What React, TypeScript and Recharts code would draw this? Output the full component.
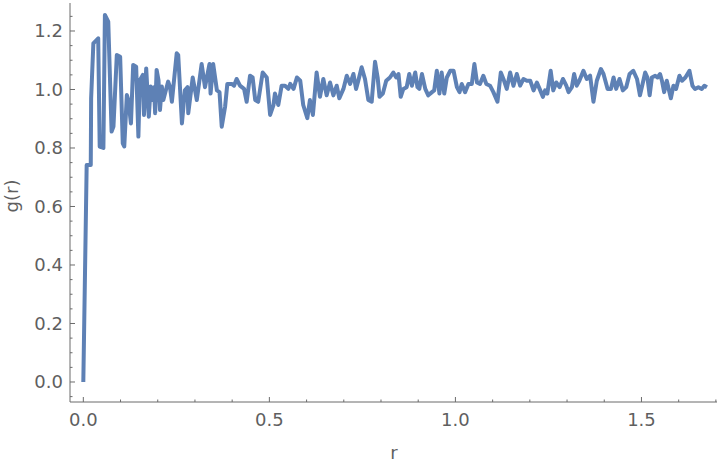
import { LineChart, Line, XAxis, YAxis } from "recharts";

// radial distribution function
const rValues = [
  0, 0.009, 0.02, 0.021, 0.027, 0.04, 0.044, 0.054, 0.058, 0.067, 0.076, 0.081, 0.09, 0.099,
  0.106, 0.11, 0.117, 0.121, 0.128, 0.134, 0.142, 0.148, 0.152, 0.16, 0.163, 0.169, 0.176,
  0.181, 0.185, 0.19, 0.193, 0.197, 0.202, 0.206, 0.211, 0.215, 0.222, 0.228, 0.233, 0.238,
  0.251, 0.255, 0.265, 0.273, 0.28, 0.282, 0.294, 0.305, 0.318, 0.327, 0.339, 0.342, 0.349,
  0.359, 0.366, 0.372, 0.381, 0.387, 0.399, 0.405, 0.412, 0.421, 0.432, 0.439, 0.448, 0.455,
  0.462, 0.47, 0.482, 0.493, 0.502, 0.511, 0.515, 0.524, 0.533, 0.542, 0.551, 0.556, 0.565,
  0.574, 0.583, 0.591, 0.602, 0.609, 0.617, 0.627, 0.636, 0.645, 0.654, 0.663, 0.672, 0.681,
  0.688, 0.699, 0.708, 0.717, 0.726, 0.733, 0.739, 0.748, 0.757, 0.766, 0.775, 0.784, 0.791,
  0.796, 0.805, 0.814, 0.824, 0.833, 0.841, 0.847, 0.853, 0.86, 0.869, 0.876, 0.883, 0.892,
  0.898, 0.903, 0.91, 0.919, 0.927, 0.937, 0.943, 0.95, 0.957, 0.963, 0.97, 0.977, 0.986,
  0.995, 1.004, 1.011, 1.017, 1.026, 1.035, 1.044, 1.051, 1.058, 1.066, 1.075, 1.083, 1.093,
  1.102, 1.113, 1.122, 1.129, 1.138, 1.147, 1.156, 1.165, 1.174, 1.183, 1.192, 1.201, 1.21,
  1.219, 1.228, 1.235, 1.241, 1.247, 1.256, 1.263, 1.271, 1.28, 1.289, 1.298, 1.304, 1.313,
  1.319, 1.326, 1.333, 1.344, 1.353, 1.362, 1.371, 1.38, 1.391, 1.398, 1.409, 1.418, 1.425,
  1.432, 1.441, 1.45, 1.459, 1.468, 1.478, 1.488, 1.496, 1.51, 1.516, 1.522, 1.528, 1.537,
  1.543, 1.55, 1.555, 1.561, 1.568, 1.579, 1.586, 1.593, 1.602, 1.609, 1.618, 1.629, 1.637,
  1.644, 1.653, 1.662, 1.669, 1.676,
];

const gValues = [
  0, 0.742, 0.742, 0.97, 1.158, 1.175, 0.805, 0.8, 1.255, 1.232, 0.856, 0.873, 1.118, 1.112,
  0.816, 0.805, 0.981, 0.964, 0.884, 1.084, 1.078, 0.839, 1.032, 1.05, 0.913, 1.072, 0.907,
  1.01, 0.964, 1.008, 0.919, 1.067, 1.032, 0.93, 1.01, 0.964, 0.998, 1.027, 1.008, 0.958,
  1.124, 1.118, 0.884, 0.997, 1.008, 0.919, 1.041, 0.964, 1.087, 1.008, 1.087, 0.986, 1.087,
  0.997, 0.991, 0.873, 0.941, 1.019, 1.019, 1.013, 1.036, 1.013, 1.002, 0.958, 1.047, 1.041,
  0.964, 0.958, 1.058, 1.041, 0.913, 0.947, 0.986, 0.947, 1.013, 1.013, 1.002, 1.019, 1.002,
  1.041, 1.03, 0.947, 0.902, 0.964, 0.913, 1.058, 0.975, 1.036, 0.98, 1.024, 0.98, 1.013,
  0.97, 1.002, 1.047, 1.019, 1.053, 1.002, 1.03, 1.076, 1.036, 0.964, 0.958, 1.095, 1.041,
  0.975, 0.986, 1.03, 1.041, 1.058, 1.041, 1.053, 0.975, 1.002, 1.008, 1.053, 1.013, 1.058,
  1.008, 1.002, 1.053, 1.002, 0.98, 0.991, 0.997, 1.064, 0.986, 1.058, 0.986, 1.041, 1.064,
  1.064, 1.008, 0.991, 1.019, 0.991, 1.019, 1.019, 1.087, 1.024, 1.019, 1.047, 1.019, 1.013,
  0.991, 0.958, 1.058, 1.036, 1.002, 1.058, 1.013, 1.053, 1.013, 1.036, 1.03, 1.03, 0.997,
  1.024, 0.997, 0.975, 0.997, 0.986, 1.064, 0.997, 1.024, 1.008, 1.036, 1.013, 0.991, 1.008,
  1.053, 1.013, 1.03, 1.064, 1.036, 1.047, 0.958, 1.03, 1.07, 1.053, 1.002, 1.002, 1.041,
  1.002, 1.036, 0.997, 1.008, 1.053, 1.064, 1.036, 0.98, 1.058, 1.041, 0.98, 1.041, 1.047,
  1.041, 1.053, 1.03, 0.991, 1.03, 0.97, 1.013, 1.002, 1.047, 1.03, 1.041, 1.064, 1.013,
  1.002, 1.008, 1.002, 1.013, 1.008,
];

const xTicks = [0, 0.1, 0.2, 0.3, 0.4, 0.5, 0.6, 0.7, 0.8, 0.9, 1.0, 1.1, 1.2, 1.3, 1.4, 1.5, 1.6, 1.7];
const xLabelled = [0, 0.5, 1.0, 1.5];
const yTicks = [
  -0.05, 0, 0.05, 0.1, 0.15, 0.2, 0.25, 0.3, 0.35, 0.4, 0.45, 0.5, 0.55, 0.6, 0.65, 0.7, 0.75,
  0.8, 0.85, 0.9, 0.95, 1.0, 1.05, 1.1, 1.15, 1.2, 1.25,
];
const yLabelled = [0, 0.2, 0.4, 0.6, 0.8, 1.0, 1.2];

const data = rValues.map((r, i) => ({ r, g: gValues[i] }));

const FRAME = "#6b6b6b";
const TEXT = "#5f5f5f";
const FONT = "DejaVu Sans";
const MAJOR = 5;
const MINOR = 2.5;

const isLabelled = (v: number, list: number[]) => list.some((m) => Math.abs(m - v) < 1e-6);

function BottomTick({ x, y, payload }: any) {
  const major = isLabelled(payload.value, xLabelled);
  return (
    <g>
      <line x1={x} y1={y} x2={x} y2={y - (major ? MAJOR : MINOR)} stroke={FRAME} />
      {major && (
        <text x={x} y={y + 24} textAnchor="middle" fill={TEXT} fontSize={18} fontFamily={FONT}>
          {payload.value.toFixed(1)}
        </text>
      )}
    </g>
  );
}

function TopTick({ x, y, payload }: any) {
  const major = isLabelled(payload.value, xLabelled);
  return <line x1={x} y1={y} x2={x} y2={y + (major ? MAJOR : MINOR)} stroke={FRAME} />;
}

function LeftTick({ x, y, payload }: any) {
  const major = isLabelled(payload.value, yLabelled);
  return (
    <g>
      <line x1={x} y1={y} x2={x + (major ? MAJOR : MINOR)} y2={y} stroke={FRAME} />
      {major && (
        <text x={x - 7} y={y + 6.5} textAnchor="end" fill={TEXT} fontSize={18} fontFamily={FONT}>
          {payload.value.toFixed(1)}
        </text>
      )}
    </g>
  );
}

function RightTick({ x, y, payload }: any) {
  const major = isLabelled(payload.value, yLabelled);
  return <line x1={x} y1={y} x2={x - (major ? MAJOR : MINOR)} y2={y} stroke={FRAME} />;
}

export default function App() {
  return (
    <div style={{ position: "absolute", left: 0, top: 0, width: 720, height: 466, background: "#fff" }}>
      <LineChart width={720} height={466} data={data} margin={{ top: 3, right: 3, left: 0, bottom: 0 }}>
        <XAxis
          dataKey="r"
          type="number"
          domain={[-0.0358, 1.703]}
          allowDataOverflow
          ticks={xTicks}
          interval={0}
          height={64}
          tickSize={0}
          tickMargin={0}
          tickLine={false}
          axisLine={{ stroke: FRAME }}
          tick={<BottomTick />}
          label={() => (
            <text x={394} y={459} textAnchor="middle" fill={TEXT} fontSize={18} fontFamily={FONT}>
              r
            </text>
          )}
        />
        <XAxis
          xAxisId="top"
          orientation="top"
          type="number"
          domain={[-0.0358, 1.703]}
          allowDataOverflow
          ticks={xTicks}
          interval={0}
          height={0}
          tickSize={0}
          tickMargin={0}
          tickLine={false}
          axisLine={{ stroke: FRAME }}
          tick={<TopTick />}
        />
        <YAxis
          type="number"
          domain={[-0.0684, 1.2957]}
          allowDataOverflow
          ticks={yTicks}
          interval={0}
          width={70}
          tickSize={0}
          tickMargin={0}
          tickLine={false}
          axisLine={{ stroke: FRAME }}
          tick={<LeftTick />}
          label={() => (
            <text
              x={18}
              y={196}
              transform="rotate(-90 18 196)"
              textAnchor="middle"
              fill={TEXT}
              fontSize={18}
              fontFamily={FONT}
            >
              g(r)
            </text>
          )}
        />
        <YAxis
          yAxisId="right"
          orientation="right"
          type="number"
          domain={[-0.0684, 1.2957]}
          allowDataOverflow
          ticks={yTicks}
          interval={0}
          width={0}
          tickSize={0}
          tickMargin={0}
          tickLine={false}
          axisLine={{ stroke: FRAME }}
          tick={<RightTick />}
        />
        <Line
          dataKey="g"
          type="linear"
          stroke="#5e81b5"
          strokeWidth={4}
          strokeLinejoin="round"
          dot={false}
          isAnimationActive={false}
        />
      </LineChart>
    </div>
  );
}
